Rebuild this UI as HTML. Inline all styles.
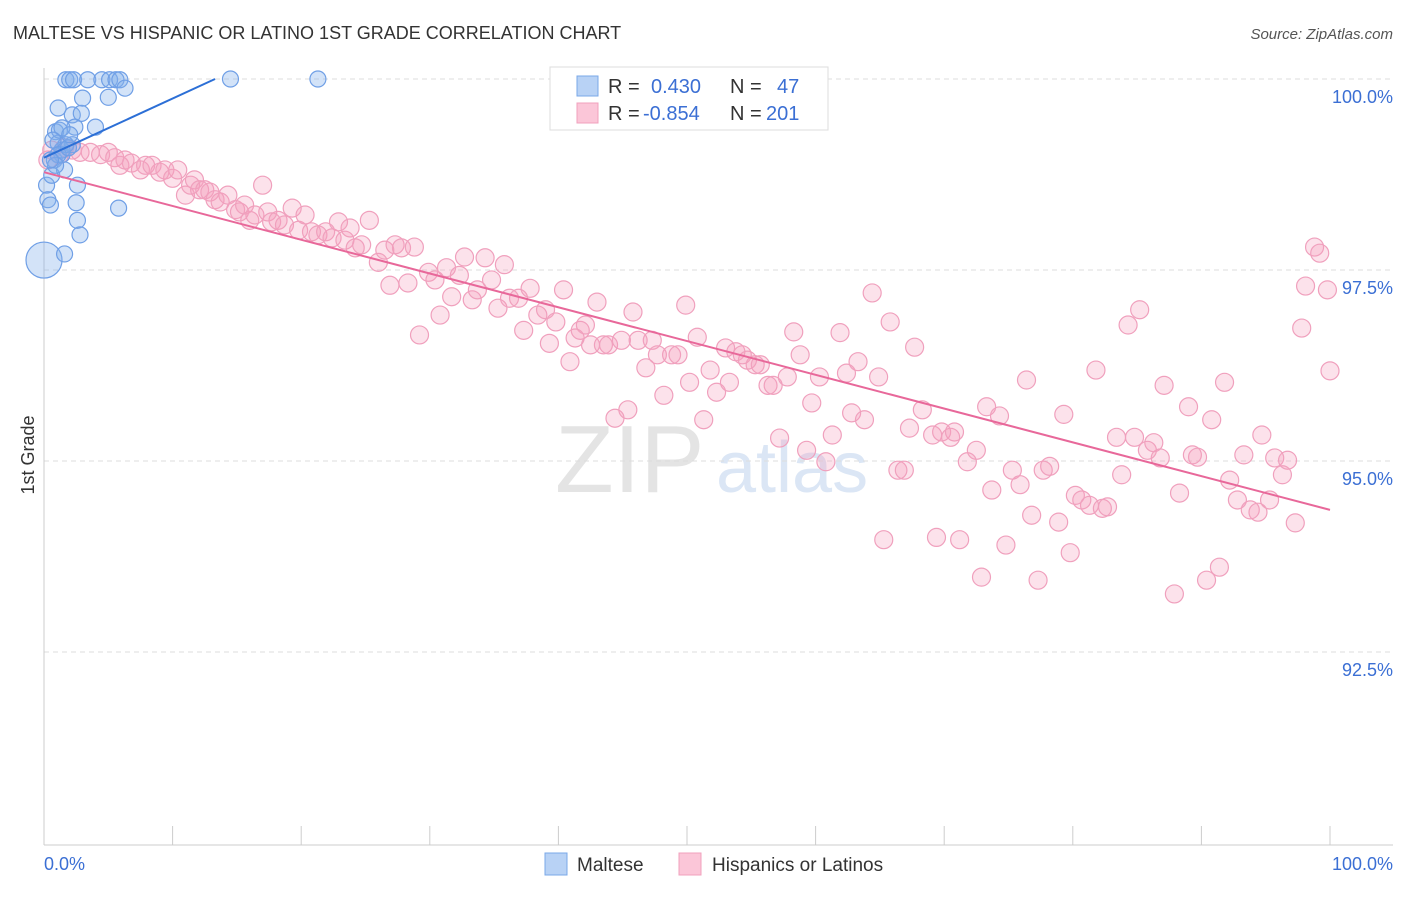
<!DOCTYPE html>
<html><head><meta charset="utf-8"><style>
body{margin:0;background:#fff;font-family:"Liberation Sans",sans-serif;}
svg text{font-family:"Liberation Sans",sans-serif;}
</style></head><body>
<svg id="chart" width="1406" height="892" viewBox="0 0 1406 892">
<text x="13" y="39" font-size="18" fill="#333">MALTESE VS HISPANIC OR LATINO 1ST GRADE CORRELATION CHART</text>
<text x="1393" y="39" font-size="15" fill="#555" font-style="italic" text-anchor="end">Source: ZipAtlas.com</text>
<text x="0" y="0" font-size="18" fill="#333" text-anchor="middle" transform="translate(34,455) rotate(-90)">1st Grade</text>
<g>
<text x="555" y="492" font-size="96" fill="#e4e4e4" font-family="Liberation Serif,serif">ZIP</text>
<text x="716" y="492" font-size="72" fill="#dbe6f5">atlas</text>
</g>
<g id="grid"></g><g id="axes"></g><g id="pts"></g><g id="trend"></g>
<g>
<rect x="550" y="67" width="278" height="63" fill="#fff" stroke="#ddd"/>
<rect x="577" y="76" width="21" height="20" fill="#b8d2f5" stroke="#7aa8e8"/>
<rect x="577" y="103" width="21" height="20" fill="#fbc6d8" stroke="#f0a0bd"/>
<text x="608" y="93" font-size="20" fill="#333">R = <tspan x="651" fill="#3b6fd4">0.430</tspan><tspan x="730">N =</tspan><tspan x="777" fill="#3b6fd4">47</tspan></text>
<text x="608" y="120" font-size="20" fill="#333">R = <tspan x="643" fill="#3b6fd4">-0.854</tspan><tspan x="730">N =</tspan><tspan x="766" fill="#3b6fd4">201</tspan></text>
</g>
<g>
<rect x="545" y="853" width="22" height="22" fill="#b8d2f5" stroke="#7aa8e8"/>
<text x="577" y="871" font-size="19" fill="#333">Maltese</text>
<rect x="679" y="853" width="22" height="22" fill="#fbc6d8" stroke="#f0a0bd"/>
<text x="712" y="871" font-size="19" fill="#333">Hispanics or Latinos</text>
</g>
</svg>
<script>
const yTicks=[100,97.5,95,92.5];
const yTickLabels=["100.0%","97.5%","95.0%","92.5%"];
const xTickLabels=["0.0%","100.0%"];
const pinkX=[0.3,0.6,1.2,1.6,2.2,2.8,3.6,4.4,5.0,5.5,5.9,6.3,6.8,7.5,7.9,8.4,9.0,9.4,10.0,10.4,11.0,11.4,11.7,12.1,12.5,12.9,13.3,13.7,14.3,14.9,15.2,15.6,16.0,16.4,17.0,17.4,17.7,18.2,18.7,19.3,19.8,20.3,20.8,21.3,21.9,22.4,22.9,23.4,23.8,24.2,24.7,25.3,26.0,26.5,26.9,27.3,27.8,28.3,28.8,29.2,29.9,30.4,30.8,31.3,31.7,32.3,32.7,33.3,33.7,34.3,34.8,35.3,35.8,36.2,36.9,37.3,37.8,38.4,39.0,39.3,39.8,40.4,40.9,41.3,41.7,42.1,42.5,43.0,43.5,43.9,44.4,44.9,45.4,45.8,46.2,46.8,47.3,47.7,48.2,48.8,49.3,49.9,50.2,50.8,51.3,51.8,52.3,53.0,53.3,53.8,54.3,54.7,55.3,55.7,56.3,56.7,57.2,57.8,58.3,58.8,59.3,59.7,60.3,60.8,61.3,61.9,62.4,62.8,63.3,63.8,64.4,64.9,65.3,65.8,66.4,66.9,67.3,67.7,68.3,69.1,69.4,69.8,70.5,70.8,71.2,71.8,72.5,72.9,73.3,73.7,74.3,74.8,75.3,75.9,76.4,76.8,77.3,77.7,78.2,78.9,79.3,79.8,80.2,80.7,81.3,81.8,82.3,82.7,83.4,83.8,84.3,84.8,85.2,85.8,86.3,86.8,87.1,87.9,88.3,89.0,89.3,89.7,90.4,90.8,91.4,91.8,92.2,92.8,93.3,93.8,94.4,94.7,95.3,95.7,96.3,96.7,97.3,97.8,98.1,98.8,99.2,99.8,100.0];
const pinkY=[98.94,99.07,99.01,99.10,99.07,99.04,99.04,99.01,99.04,98.97,98.87,98.94,98.90,98.81,98.87,98.87,98.78,98.81,98.70,98.81,98.48,98.61,98.68,98.55,98.55,98.52,98.42,98.39,98.48,98.29,98.26,98.35,98.15,98.22,98.61,98.26,98.13,98.15,98.09,98.31,98.02,98.22,98.00,97.96,98.00,97.92,98.13,97.89,98.05,97.79,97.83,98.15,97.60,97.76,97.30,97.83,97.79,97.33,97.80,96.65,97.47,97.37,96.91,97.53,97.15,97.43,97.67,97.11,97.24,97.66,97.37,97.00,97.57,97.13,97.13,96.71,97.26,96.91,96.98,96.54,96.82,97.24,96.30,96.61,96.71,96.78,96.52,97.08,96.52,96.52,95.56,96.58,95.67,96.95,96.58,96.22,96.58,96.39,95.86,96.39,96.39,97.04,96.03,96.62,95.54,96.19,95.90,96.48,96.03,96.43,96.39,96.32,96.26,96.26,95.99,95.99,95.30,96.10,96.69,96.39,95.14,95.76,96.10,94.99,95.34,96.68,96.15,95.63,96.30,95.54,97.20,96.10,93.97,96.82,94.88,94.88,95.43,96.49,95.67,95.34,94.00,95.38,95.31,95.38,93.97,94.99,95.14,93.48,95.71,94.62,95.59,93.90,94.88,94.69,96.06,94.29,93.44,94.88,94.93,94.20,95.61,93.80,94.55,94.49,94.42,96.19,94.38,94.40,95.31,94.82,96.78,95.31,96.98,95.14,95.24,95.04,95.99,93.26,94.58,95.71,95.08,95.05,93.44,95.54,93.61,96.03,94.75,94.49,95.08,94.36,94.33,95.34,94.49,95.04,94.82,95.01,94.19,96.74,97.29,97.80,97.72,97.24,96.18];
const blueX=[0.0,0.2,0.3,0.5,0.6,0.8,0.9,1.1,1.1,1.2,1.4,1.6,1.7,2.0,2.2,2.2,2.3,2.4,2.5,2.6,2.6,2.8,2.9,3.0,3.4,4.0,4.5,5.0,5.1,5.6,5.8,5.9,6.3,14.5,21.3,1.6,1.4,1.7,1.1,0.9,1.4,1.9,2.0,0.7,0.5];
const blueY=[97.63,98.61,98.42,98.35,98.74,98.94,99.31,99.62,99.16,99.33,99.01,98.81,99.99,99.99,99.14,99.53,99.99,99.37,98.38,98.15,98.61,97.96,99.55,99.75,99.99,99.37,99.99,99.76,99.99,99.99,98.31,99.99,99.88,100.0,100.0,97.71,99.07,99.14,99.01,98.87,99.36,99.10,99.27,99.20,98.94];
const pinkTrendX=[0,100], pinkTrendY=[98.78,94.36];
const blueTrendX=[0,13.3], blueTrendY=[98.97,100.0];

const NS="http://www.w3.org/2000/svg";
const X0=44,X1=1330,Ytop=79,PX=76.4;
const xs=v=>X0+(X1-X0)*v/100;
const ys=v=>Ytop+(100-v)*PX;
function mk(tag,attrs,parent){const e=document.createElementNS(NS,tag);for(const k in attrs)e.setAttribute(k,attrs[k]);parent.appendChild(e);return e;}
const grid=document.getElementById('grid'),axes=document.getElementById('axes');
yTicks.forEach((t,i)=>{
  const l=mk('line',{x1:44,x2:1393,y1:ys(t),y2:ys(t),stroke:'#ddd','stroke-dasharray':'5,4'},grid);
  
  
  const tx=mk('text',{x:1393,y:ys(t)+24,'font-size':18,fill:'#3b6fd4','text-anchor':'end'},axes);
  tx.textContent=yTickLabels[i];
  
  
});
const yax=mk('line',{x1:44,x2:44,y1:68,y2:845,stroke:'#ccc'},axes);


const xax=mk('line',{x1:44,x2:1393,y1:845,y2:845,stroke:'#ccc'},axes);


for(let i=0;i<=10;i++){
  const tk=mk('line',{x1:xs(i*10),x2:xs(i*10),y1:826,y2:845,stroke:'#ccc'},axes);
  
  
}
const xl0=mk('text',{x:44,y:870,'font-size':18,fill:'#3b6fd4'},axes);xl0.textContent=xTickLabels[0];


const xl1=mk('text',{x:1393,y:870,'font-size':18,fill:'#3b6fd4','text-anchor':'end'},axes);xl1.textContent=xTickLabels[1];


const pts=document.getElementById('pts');
pinkX.forEach((x,i)=>{
  const c=mk('circle',{cx:xs(x),cy:ys(pinkY[i]),r:9,fill:'rgba(244,160,190,0.3)',stroke:'#f0a0bd','stroke-width':1.2},pts);
  
  
});
blueX.forEach((x,i)=>{
  const c=mk('circle',{cx:xs(x),cy:ys(blueY[i]),r:i===0?18:8,fill:'rgba(130,175,235,0.35)',stroke:'#6f9fe6','stroke-width':1.2},pts);
  
  
});
const tr=document.getElementById('trend');
const pl=mk('line',{x1:xs(pinkTrendX[0]),y1:ys(pinkTrendY[0]),x2:xs(pinkTrendX[1]),y2:ys(pinkTrendY[1]),stroke:'#e8689a','stroke-width':2},tr);


const bl=mk('line',{x1:xs(blueTrendX[0]),y1:ys(blueTrendY[0]),x2:xs(blueTrendX[1]),y2:ys(blueTrendY[1]),stroke:'#2c6fd6','stroke-width':2},tr);


</script>
</body></html>
